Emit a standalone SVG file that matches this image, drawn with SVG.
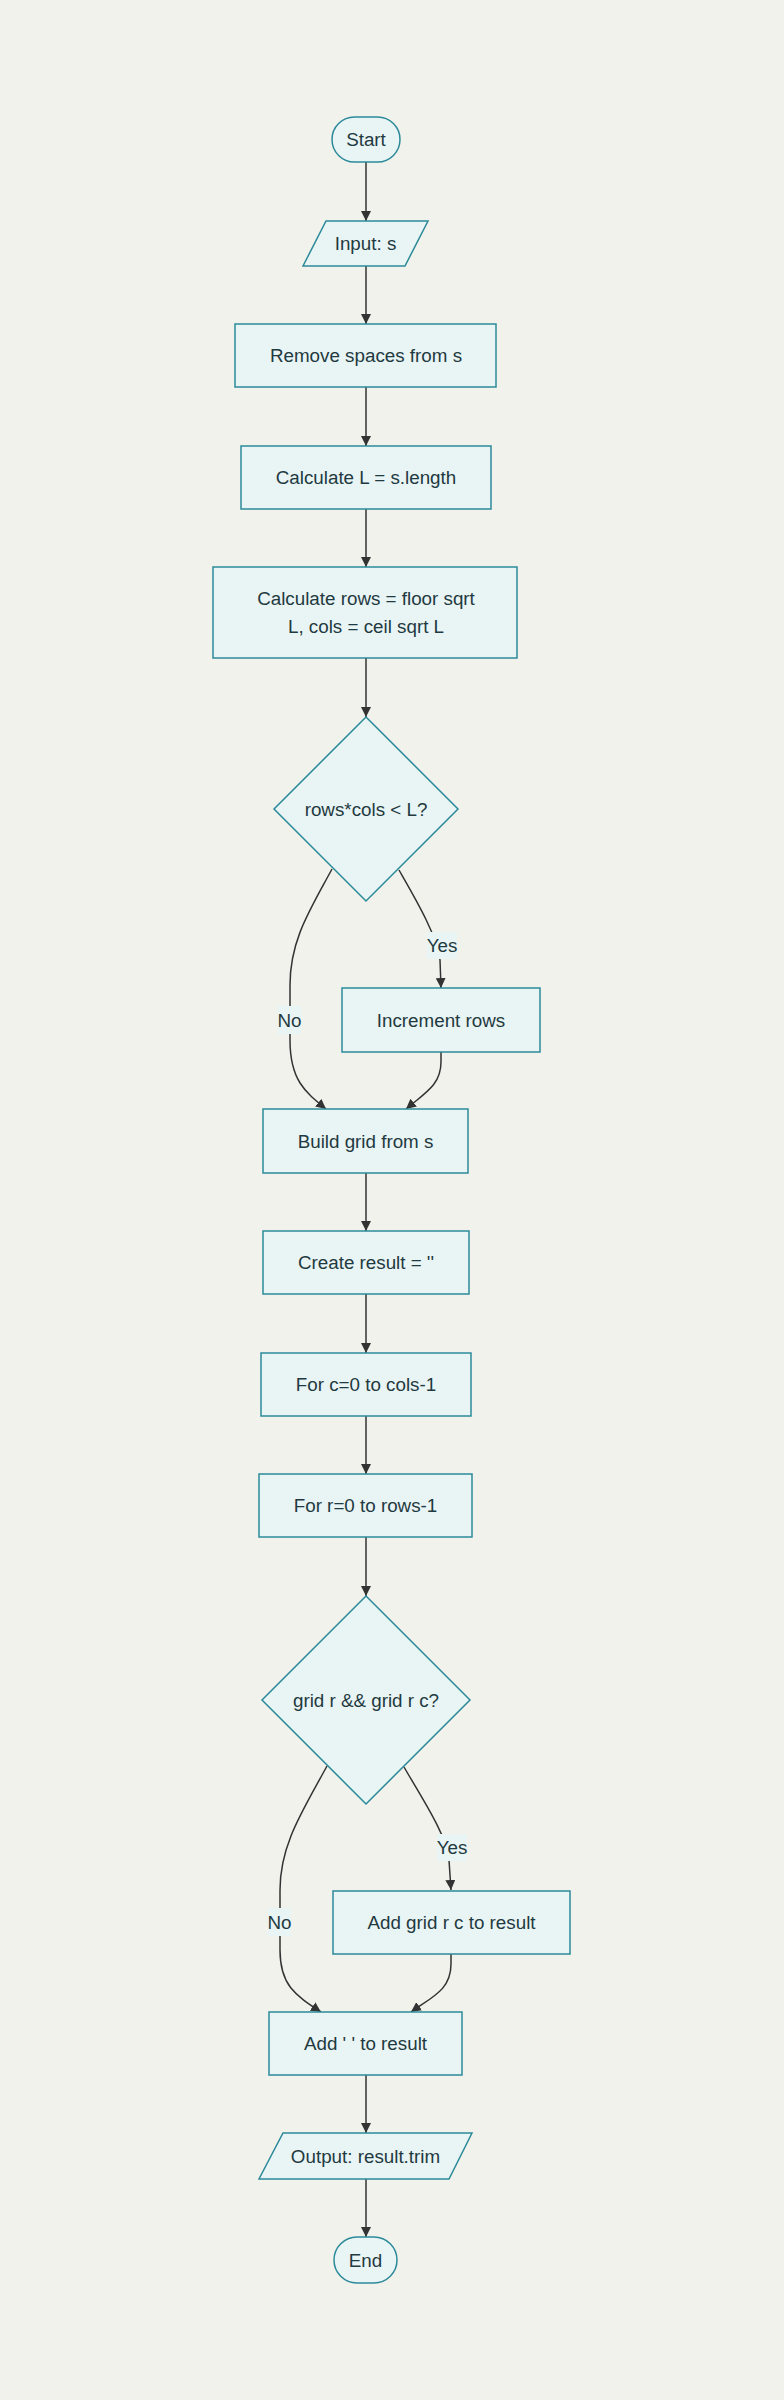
<svg xmlns="http://www.w3.org/2000/svg" width="784" height="2400" viewBox="0 0 784 2400">
<style>
.bg{fill:#f2f2ed}
.n{fill:#e9f4f5;stroke:#2b8a99;stroke-width:1.5}
.t{font-family:"Liberation Sans",Arial,sans-serif;font-size:18.8px;fill:#1f3a40;text-anchor:middle}
.e{fill:none;stroke:#333;stroke-width:1.5}
.lb{fill:#e9f4f5}
</style>
<defs>
<marker id="arr" viewBox="0 0 10 10" refX="10" refY="5" markerWidth="10" markerHeight="10" markerUnits="userSpaceOnUse" orient="auto">
<path d="M0,0 L10,5 L0,10 z" fill="#333"/>
</marker>
</defs>
<rect class="bg" x="0" y="0" width="784" height="2400"/>
<g id="edges">
<path class="e" d="M366,162 L366,221" marker-end="url(#arr)"/>
<path class="e" d="M366,266 L366,324" marker-end="url(#arr)"/>
<path class="e" d="M366,387 L366,446" marker-end="url(#arr)"/>
<path class="e" d="M366,509 L366,567" marker-end="url(#arr)"/>
<path class="e" d="M366,658 L366,717" marker-end="url(#arr)"/>
<path class="e" d="M332,869 C310,910 290,940 290,985 L290,1040 C290,1080 305,1092 326,1109" marker-end="url(#arr)"/>
<path class="e" d="M399,870 C415,898 437,935 440,960 L441,988" marker-end="url(#arr)"/>
<path class="e" d="M441,1052 L441,1062 C441,1085 425,1093 406,1109" marker-end="url(#arr)"/>
<path class="e" d="M366,1173 L366,1231" marker-end="url(#arr)"/>
<path class="e" d="M366,1294 L366,1353" marker-end="url(#arr)"/>
<path class="e" d="M366,1416 L366,1474" marker-end="url(#arr)"/>
<path class="e" d="M366,1537 L366,1596" marker-end="url(#arr)"/>
<path class="e" d="M327,1766 C302,1812 280,1845 280,1890 L280,1950 C280,1985 295,1995 321,2012" marker-end="url(#arr)"/>
<path class="e" d="M404,1767 C420,1795 447,1835 449,1860 L451,1890" marker-end="url(#arr)"/>
<path class="e" d="M451,1954 L451,1964 C451,1990 432,1997 411,2012" marker-end="url(#arr)"/>
<path class="e" d="M366,2075 L366,2133" marker-end="url(#arr)"/>
<path class="e" d="M366,2179 L366,2237" marker-end="url(#arr)"/>
<g id="edge-labels">
<rect class="lb" x="427" y="932" width="30" height="27"/>
<text class="t" x="442" y="945.5" dy="0.35em">Yes</text>
<rect class="lb" x="278" y="1006" width="23" height="28"/>
<text class="t" x="289.5" y="1020" dy="0.35em">No</text>
<rect class="lb" x="437" y="1834" width="30" height="27"/>
<text class="t" x="452" y="1847.5" dy="0.35em">Yes</text>
<rect class="lb" x="268" y="1908" width="23" height="28"/>
<text class="t" x="279.5" y="1922" dy="0.35em">No</text>
</g>
</g>
<g id="start"><rect class="n" x="332" y="117" width="68" height="45" rx="22.5"/><text class="t" x="366" y="139.5" dy="0.35em">Start</text></g>
<g id="input"><polygon class="n" points="326,221 428,221 405,266 303,266"/><text class="t" x="365.5" y="243.5" dy="0.35em">Input: s</text></g>
<g id="remove"><rect class="n" x="235" y="324" width="261" height="63"/><text class="t" x="366" y="355.5" dy="0.35em">Remove spaces from s</text></g>
<g id="calcL"><rect class="n" x="241" y="446" width="250" height="63"/><text class="t" x="366" y="477.5" dy="0.35em">Calculate L = s.length</text></g>
<g id="calcRows"><rect class="n" x="213" y="567" width="304" height="91"/><text class="t" x="366" y="598.5" dy="0.35em">Calculate rows = floor sqrt</text><text class="t" x="366" y="626.5" dy="0.35em">L, cols = ceil sqrt L</text></g>
<g id="check1"><polygon class="n" points="366,717 458,809 366,901 274,809"/><text class="t" x="366" y="809" dy="0.35em">rows*cols &lt; L?</text></g>
<g id="increment"><rect class="n" x="342" y="988" width="198" height="64"/><text class="t" x="441" y="1020" dy="0.35em">Increment rows</text></g>
<g id="build"><rect class="n" x="263" y="1109" width="205" height="64"/><text class="t" x="365.5" y="1141" dy="0.35em">Build grid from s</text></g>
<g id="create"><rect class="n" x="263" y="1231" width="206" height="63"/><text class="t" x="366" y="1262.5" dy="0.35em">Create result = ''</text></g>
<g id="forC"><rect class="n" x="261" y="1353" width="210" height="63"/><text class="t" x="366" y="1384.5" dy="0.35em">For c=0 to cols-1</text></g>
<g id="forR"><rect class="n" x="259" y="1474" width="213" height="63"/><text class="t" x="365.5" y="1505.5" dy="0.35em">For r=0 to rows-1</text></g>
<g id="check2"><polygon class="n" points="366,1596 470,1700 366,1804 262,1700"/><text class="t" x="366" y="1700" dy="0.35em">grid r &amp;&amp; grid r c?</text></g>
<g id="addGrid"><rect class="n" x="333" y="1891" width="237" height="63"/><text class="t" x="451.5" y="1922" dy="0.35em">Add grid r c to result</text></g>
<g id="addSpace"><rect class="n" x="269" y="2012" width="193" height="63"/><text class="t" x="365.5" y="2043.5" dy="0.35em">Add ' ' to result</text></g>
<g id="output"><polygon class="n" points="283,2133 472,2133 449,2179 259,2179"/><text class="t" x="365.5" y="2156" dy="0.35em">Output: result.trim</text></g>
<g id="end"><rect class="n" x="334" y="2237" width="63" height="46" rx="23"/><text class="t" x="365.5" y="2260" dy="0.35em">End</text></g>
</svg>
